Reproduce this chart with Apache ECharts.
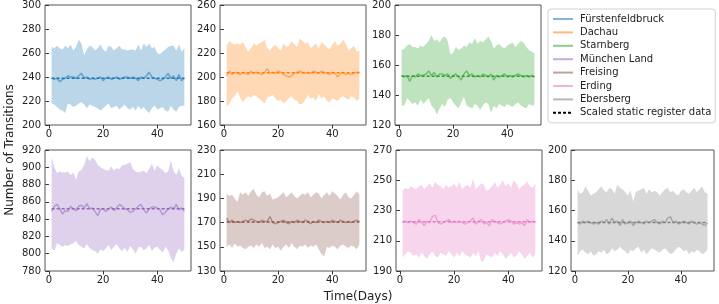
<!DOCTYPE html>
<html>
<head>
<meta charset="utf-8">
<script src="https://cdn.jsdelivr.net/npm/echarts@6/dist/echarts.min.js"></script>
<style>
  html, body { margin: 0; padding: 0; background: #fff; }
  #chart { width: 719px; height: 304px; }
</style>
</head>
<body>
<div id="chart"></div>
<script>
// days 1..50
var days = [];
for (var d = 1; d <= 50; d++) days.push(d);

var districts = ['Fürstenfeldbruck', 'Dachau', 'Starnberg', 'München Land', 'Freising', 'Erding', 'Ebersberg'];
var colors = ['#1f77b4', '#ff7f0e', '#2ca02c', '#9467bd', '#8c564b', '#e377c2', '#7f7f7f'];
var staticValues = [239, 203.5, 152.5, 852, 170.5, 222.5, 152];

// y axis ranges + tick labels per panel
var yMin = [200, 160, 120, 780, 130, 190, 120];
var yMax = [300, 260, 200, 920, 230, 270, 200];
var yTicks = [
  [200, 220, 240, 260, 280, 300],
  [160, 180, 200, 220, 240, 260],
  [120, 140, 160, 180, 200],
  [780, 800, 820, 840, 860, 880, 900, 920],
  [130, 150, 170, 190, 210, 230],
  [190, 210, 230, 250, 270],
  [120, 140, 160, 180, 200]
];
var xTicks = [0, 20, 40];

// Fürstenfeldbruck
var fuerUpper = [265,264,266,264,263,266,264,267,262,265,271,268,258,263,266,265,262,264,267,263,261,266,265,262,264,266,263,263,262,263,263,262,267,262,268,265,268,264,265,260,259,261,263,265,266,266,262,267,261,264];
var fuerLower = [218,217,215,213,212,210,218,217,215,216,218,219,217,214,217,216,215,214,212,214,216,218,214,215,216,213,215,217,214,213,215,212,216,213,215,212,210,214,216,213,214,215,212,211,216,213,211,215,216,216];
var fuerMean  = [239,238,239,236,238,239,241,240,240,239,241,243,239,240,238,239,238,239,240,237,239,240,238,239,240,238,239,240,240,239,240,239,237,240,239,241,244,240,239,238,237,238,240,243,239,241,237,242,237,239];

// Dachau
var dachUpper = [226,230,228,227,228,227,229,225,221,224,228,226,228,229,231,224,222,225,227,224,222,228,225,226,230,227,225,232,230,228,229,224,226,228,224,229,227,225,223,227,230,226,228,231,228,222,224,226,221,222];
var dachLower = [175,178,182,184,188,183,179,182,184,183,185,184,182,180,178,183,184,185,182,180,181,178,180,182,184,181,180,177,178,181,185,182,183,180,186,182,184,180,179,182,181,180,183,184,182,181,184,183,180,182];
var dachMean  = [201,205,202,204,203,202,204,203,202,205,203,204,203,202,204,207,203,204,203,205,204,202,201,200,201,203,204,205,204,203,204,203,205,204,203,205,204,203,202,204,203,200,203,204,202,203,202,203,204,204];

// Starnberg
var starUpper = [170,171,173,174,172,172,171,173,172,174,176,180,176,177,175,178,179,176,167,168,172,170,171,173,172,175,174,178,174,176,175,177,179,176,171,173,174,172,171,173,174,175,172,174,176,175,172,170,169,168];
var starLower = [133,133,138,136,134,135,133,137,134,136,138,133,131,127,131,134,132,137,138,135,133,131,135,139,133,132,131,134,133,130,133,135,134,128,133,131,134,133,132,134,133,132,134,135,133,132,131,134,133,133];
var starMean  = [153,152,153,149,153,152,154,153,153,154,156,153,155,152,154,154,153,154,151,153,154,152,150,154,156,153,154,152,153,152,154,153,152,154,150,153,152,153,154,152,153,152,153,154,153,152,153,152,153,152];

// München Land
var muenUpper = [911,900,893,895,894,894,895,891,894,886,895,897,903,913,907,911,909,903,900,898,897,896,901,896,899,898,902,903,904,906,898,895,894,895,896,893,898,904,896,902,899,897,893,895,908,896,891,899,890,888];
var muenLower = [806,803,812,810,808,810,809,811,812,815,810,808,806,811,807,804,803,800,805,803,806,810,804,808,811,806,803,807,802,809,805,800,807,808,804,806,810,803,807,808,805,801,808,804,795,790,800,806,802,805];
var muenMean  = [849,855,857,852,846,850,849,855,852,850,855,856,853,858,852,853,849,844,851,852,849,852,854,850,853,857,855,852,851,848,849,852,855,857,851,847,852,854,854,853,851,845,848,852,854,852,857,851,853,849];

// Freising
var freiUpper = [194,192,193,190,187,195,193,195,192,196,198,193,191,195,196,192,194,189,190,191,193,195,191,193,195,192,190,192,194,193,195,191,193,195,194,190,193,195,192,196,194,192,189,193,195,191,190,193,196,193];
var freiLower = [150,152,149,153,150,151,149,148,150,151,149,152,150,153,149,150,148,152,149,150,147,150,152,149,153,150,148,151,150,152,149,151,150,152,148,144,142,150,149,151,150,148,151,152,150,149,151,150,148,152];
var freiMean  = [174,170,172,170,171,170,171,172,171,173,172,171,170,172,171,171,175,170,169,170,171,172,170,169,171,170,172,171,170,172,171,169,171,170,172,171,170,171,170,172,171,170,172,171,170,171,170,171,172,171];

// Erding
var erdUpper = [243,245,244,246,245,244,246,247,244,246,248,245,249,247,246,244,247,245,246,248,245,249,244,246,247,245,251,244,246,248,247,243,244,246,249,245,247,250,246,248,245,250,248,244,246,247,249,246,245,248];
var erdLower = [199,201,203,202,200,201,199,202,200,198,201,203,200,199,202,201,200,203,201,199,202,200,203,201,200,199,202,200,203,196,197,201,200,199,202,200,203,201,198,200,202,199,200,203,201,198,200,202,199,201];
var erdMean  = [222,223,222,223,222,221,224,222,220,223,222,226,227,222,221,222,223,224,222,223,222,223,222,221,222,223,225,221,223,224,221,222,220,224,223,222,221,222,223,224,223,221,222,221,222,220,224,222,223,222];

// Ebersberg
var ebeUpper = [174,171,172,176,173,170,171,172,174,176,173,172,175,174,171,177,175,174,172,170,173,166,172,173,174,175,171,174,172,173,172,170,172,174,175,172,173,171,170,173,174,172,171,173,175,172,174,176,172,171];
var ebeLower = [130,133,134,132,131,133,130,131,133,132,134,131,132,135,133,134,136,134,133,131,134,133,135,136,132,134,131,133,135,134,133,132,134,135,133,131,132,134,136,135,133,134,131,133,132,134,133,131,132,134];
var ebeMean  = [152,151,153,152,153,152,151,152,151,153,152,154,151,155,152,153,150,154,151,152,153,150,152,153,152,151,153,152,153,154,152,151,153,152,155,156,152,153,151,152,153,152,151,153,152,151,152,151,150,152];

var uppers = [fuerUpper, dachUpper, starUpper, muenUpper, freiUpper, erdUpper, ebeUpper];
var lowers = [fuerLower, dachLower, starLower, muenLower, freiLower, erdLower, ebeLower];
var means  = [fuerMean, dachMean, starMean, muenMean, freiMean, erdMean, ebeMean];

// panel boxes (pixels)
var boxes = [
  { left: 45,  top: 5,   width: 146, height: 120 },
  { left: 220, top: 5,   width: 146, height: 120 },
  { left: 395, top: 5,   width: 146, height: 120 },
  { left: 45,  top: 150, width: 146, height: 121 },
  { left: 220, top: 150, width: 146, height: 121 },
  { left: 396, top: 150, width: 146, height: 121 },
  { left: 571, top: 150, width: 143, height: 121 }
];

var font = 'DejaVu Sans';
var chart = echarts.init(document.getElementById('chart'));

// min/max band as a polygon through the axis scales
function bandRenderer(idx) {
  return function (params, api) {
    var pts = [];
    for (var k = 0; k < days.length; k++) pts.push(api.coord([days[k], uppers[idx][k]]));
    for (var k2 = days.length - 1; k2 >= 0; k2--) pts.push(api.coord([days[k2], lowers[idx][k2]]));
    return {
      type: 'polygon',
      shape: { points: pts },
      style: { fill: colors[idx], opacity: 0.3 },
      silent: true
    };
  };
}

var grids = [], xAxes = [], yAxes = [], series = [];
for (var i = 0; i < 7; i++) {
  grids.push({
    left: boxes[i].left, top: boxes[i].top, width: boxes[i].width, height: boxes[i].height,
    show: true, borderColor: '#555', borderWidth: 1, backgroundColor: 'transparent'
  });
  xAxes.push({
    gridIndex: i, type: 'value', min: -1.45, max: 52.45,
    axisLine: { show: false },
    splitLine: { show: false },
    axisTick: { show: true, length: 3.5, lineStyle: { color: '#333' }, customValues: xTicks },
    axisLabel: { customValues: xTicks, color: '#222', fontSize: 10, fontFamily: font, margin: 4 }
  });
  yAxes.push({
    gridIndex: i, type: 'value', min: yMin[i], max: yMax[i],
    axisLine: { show: false },
    splitLine: { show: false },
    axisTick: { show: true, length: 3.5, lineStyle: { color: '#333' }, customValues: yTicks[i] },
    axisLabel: { customValues: yTicks[i], color: '#222', fontSize: 10, fontFamily: font, margin: 4 }
  });

  var meanPts = [], statPts = [];
  for (var k = 0; k < days.length; k++) {
    meanPts.push([days[k], means[i][k]]);
    statPts.push([days[k], staticValues[i]]);
  }
  series.push({
    name: 'band' + i, type: 'custom', xAxisIndex: i, yAxisIndex: i,
    data: [[days[0], lowers[i][0]]], renderItem: bandRenderer(i), silent: true, clip: true
  });
  series.push({
    name: districts[i], type: 'line', xAxisIndex: i, yAxisIndex: i,
    data: meanPts, symbol: 'none', color: colors[i],
    lineStyle: { color: colors[i], width: 1.5, opacity: 0.55 }
  });
  series.push({
    name: 'static' + i, type: 'line', xAxisIndex: i, yAxisIndex: i,
    data: statPts, symbol: 'none',
    lineStyle: { color: colors[i], width: 1.5, type: [3, 2] }
  });
}
// legend entry only
series.push({
  name: 'Scaled static register data', type: 'line', xAxisIndex: 0, yAxisIndex: 0,
  data: [], symbol: 'none', color: '#000',
  lineStyle: { color: '#000', width: 1, type: [3, 2] }
});

var option = {
  animation: false,
  grid: grids,
  xAxis: xAxes,
  yAxis: yAxes,
  legend: {
    orient: 'vertical', left: 548, top: 9,
    data: districts.concat(['Scaled static register data']),
    itemWidth: 20, itemHeight: 10, itemGap: 3.4,
    itemStyle: { opacity: 0 },
    padding: [5, 4, 5, 4],
    borderColor: '#d0d0d0', borderWidth: 1, borderRadius: 3,
    textStyle: { fontSize: 10, fontFamily: font, color: '#222', padding: [0, 0, 0, 2] }
  },
  graphic: [
    {
      type: 'text', x: 4, y: 150, rotation: Math.PI / 2,
      style: { text: 'Number of Transitions', fontSize: 12, fontFamily: font, fill: '#222', align: 'center', verticalAlign: 'top' }
    },
    {
      type: 'text', x: 358, y: 291,
      style: { text: 'Time(Days)', fontSize: 12, fontFamily: font, fill: '#222', align: 'center', verticalAlign: 'top' }
    }
  ],
  series: series
};
chart.setOption(option);
</script>
</body>
</html>
